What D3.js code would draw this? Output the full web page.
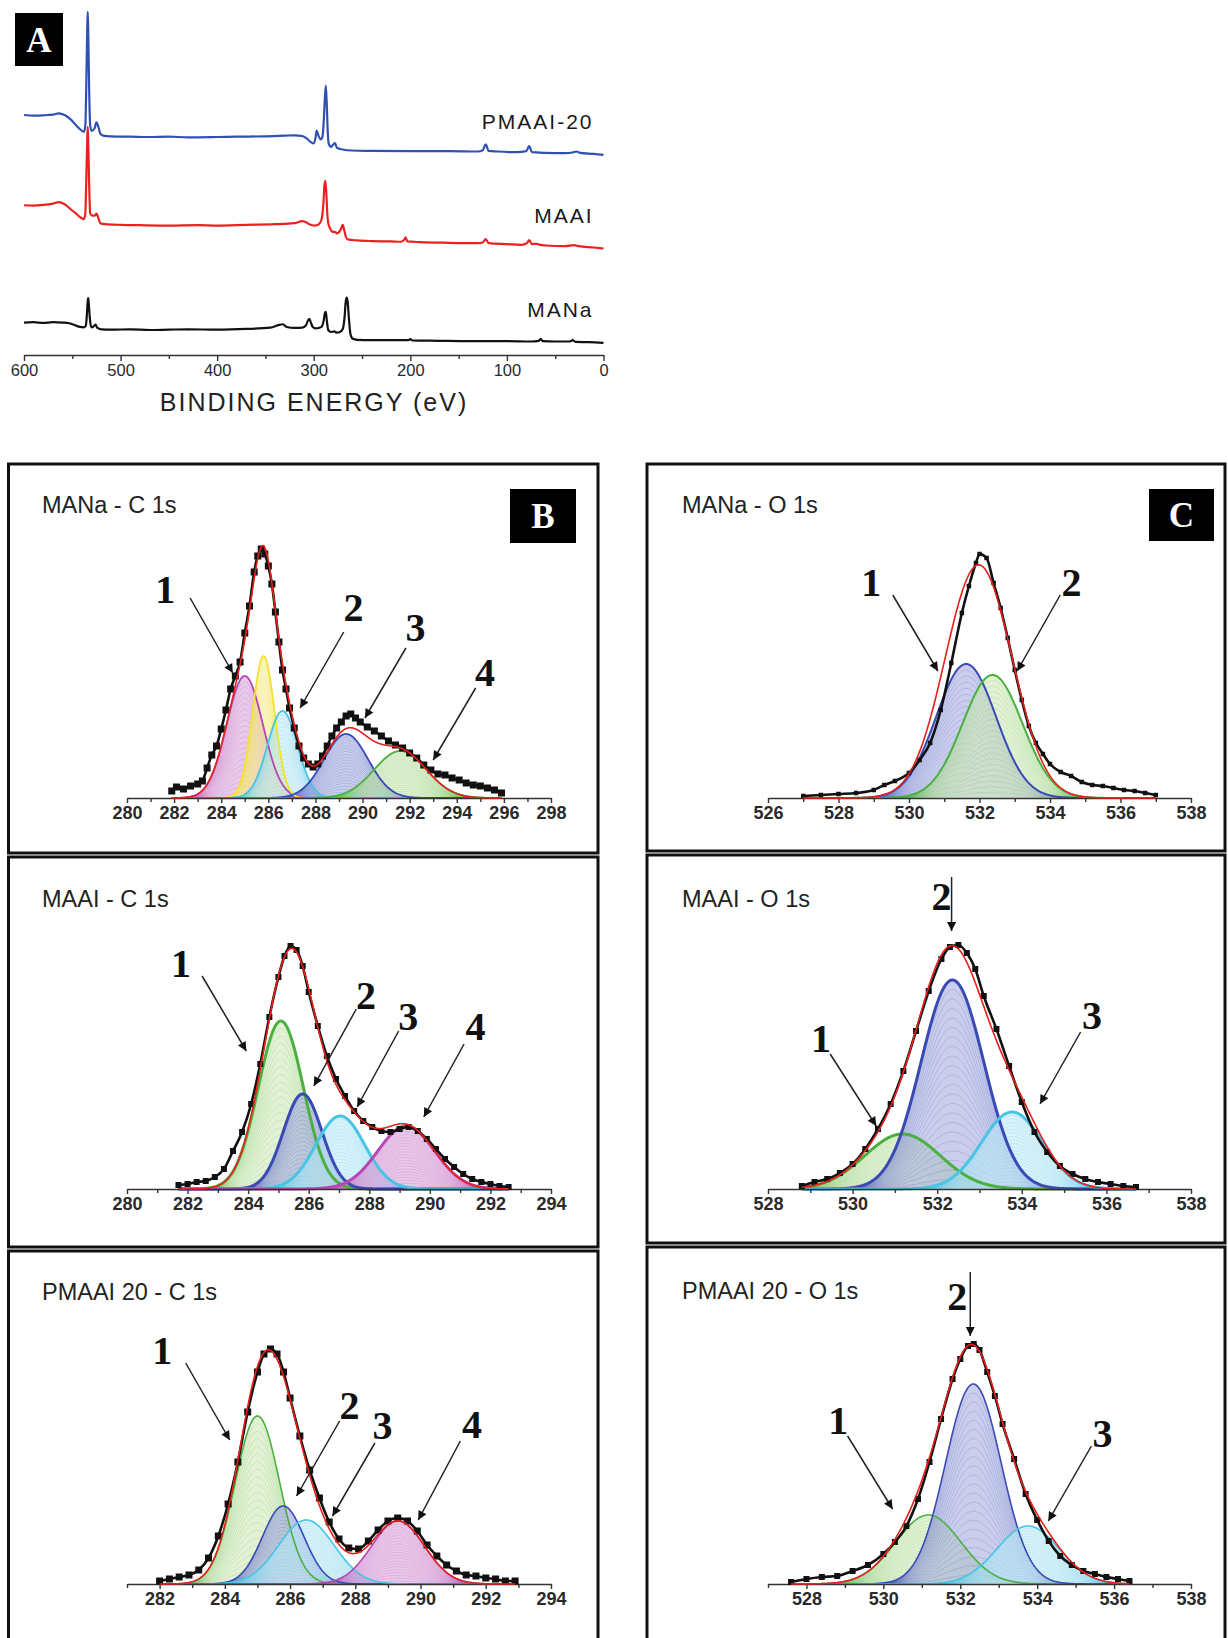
<!DOCTYPE html>
<html>
<head>
<meta charset="utf-8">
<script src="https://cdn.jsdelivr.net/npm/d3@7"></script>
<style>
  body { margin: 0; background: #fff; }
  svg { display: block; font-family: "Liberation Sans", Arial, sans-serif; }
</style>
</head>
<body>
<svg id="fig" width="1228" height="1638"></svg>
<script>
// ---------- Panel A: survey spectra, [binding energy (eV), intensity (a.u.)]
const surveyPMAAI20 = [[600,71.0],[590,70.8],[580,70.9],[570,71.1],[564,71.5],[558,71.0],[552,69.8],[547,68.3],[542,66.8],[538,66.0],
  [536.5,68],[535.5,80],[534.5,97],[534,101.5],[533.5,96],[532.5,78],[531.5,68],[530,66.3],[527,67.0],[525,68.8],[523,67.5],[521,65.5],
  [518,64.9],[510,64.7],[490,64.6],[470,64.5],[450,64.6],[430,64.4],[400,64.5],[380,64.6],[350,64.7],[330,64.9],[320,65.0],[312,64.8],
  [307,64.0],[303,63.0],[300,62.6],[298,64.5],[297,66.4],[295.5,65.2],[293,63.8],[291,64.5],[289.5,70],[288.5,76],[287.5,79.7],
  [286.5,74],[285.5,66],[284.5,62.5],[282,61.6],[280,62.2],[278,62.7],[276,61.3],[270,60.8],[260,60.5],[240,60.4],[200,60.3],
  [160,60.3],[130,60.2],[125,60.6],[122,62.3],[119,60.4],[110,60.2],[90,60.0],[80,60.3],[77,61.8],[74,60.0],[60,59.8],[40,59.7],
  [32,59.9],[28,60.2],[24,59.8],[10,59.5],[0,59.2]];
const surveyMAAI = [[600,44.3],[590,44.2],[580,44.4],[570,44.8],[564,45.2],[558,44.6],[552,43.2],[546,41.8],[541,40.6],[538,40.2],
  [536.5,42],[535.5,52],[534.5,64],[534,67.5],[533.5,63],[532.5,50],[531.5,42],[530,41.3],[527,41.2],[525,41.8],[523,40.5],[521,39.0],
  [516,38.7],[500,38.5],[480,38.4],[450,38.3],[420,38.4],[400,38.3],[370,38.5],[340,38.7],[320,39.0],[312,39.6],[308,39.3],[304,38.6],
  [299,38.3],[295,38.6],[292,40.0],[290,45],[289,50],[288,51.5],[287,48],[286,42],[285,39.0],[283,37.4],[281,36.5],[278,36.4],
  [276,36.0],[274,36.3],[272,37.2],[270,38.5],[268.5,37.0],[267,35.2],[265,34.2],[255,33.9],[240,33.7],[220,33.6],[210,33.5],
  [206,34.2],[205,34.8],[203,33.6],[190,33.4],[160,33.2],[130,33.1],[125,33.3],[122,34.3],[119,33.1],[100,32.8],[85,32.6],[79,33.2],
  [77,34.0],[74,32.8],[69,32.9],[66,32.6],[60,32.4],[40,32.2],[30,32.5],[26,32.2],[10,31.8],[0,31.5]];
const surveyMANa = [[600,9.6],[590,9.7],[580,9.5],[570,9.7],[560,9.6],[553,9.4],[547,8.8],[542,8.3],[538,8.2],[536,8.6],[535,11.5],
  [534,16],[533.5,16.8],[533,15.5],[532,11.5],[530.5,8.4],[529,8.2],[526,9.0],[524,8.0],[520,7.6],[510,7.5],[490,7.6],[470,7.4],
  [450,7.5],[430,7.6],[400,7.5],[370,7.7],[345,8.1],[336,8.9],[332,9.1],[328,8.3],[320,8.0],[312,8.1],[308,8.8],[306,10.2],
  [304.5,10.7],[303,9.6],[301,8.3],[298,7.9],[295,8.0],[292,8.3],[290,9.8],[288.5,12.3],[287.5,12.8],[286.5,10.3],[285,7.4],
  [282,6.8],[279,7.0],[276,6.6],[273,6.8],[270,7.7],[268,11.5],[267,15.5],[266,17.0],[265,16.0],[263.5,10.5],[262,6.2],[260,4.9],
  [255,4.5],[240,4.4],[220,4.4],[202,4.4],[200,4.7],[198,4.3],[170,4.2],[140,4.1],[100,4.1],[75,4.0],[67,4.2],[65,4.8],[63,4.1],
  [50,4.0],[35,4.0],[32,4.4],[29,3.9],[15,3.8],[0,3.6]];
const surveyNames = ["PMAAI-20", "MAAI", "MANa"];
const surveyTicks = [600, 500, 400, 300, 200, 100, 0];

// ---------- C 1s / O 1s fits
// peaks: [centre eV, height, FWHM eV]; points: measured [eV, counts];
// arrows: [label, labelE, labelI, tailE, tailI, tipE, tipI]
const c1sMANaPeaks = [[285.0,122,1.8],[285.8,142,1.1],[286.6,87,1.5],[289.3,64,2.2],[291.6,47,2.6]];
const c1sMANaPoints = [[281.9,7],[282.1,11],[282.4,9],[282.7,12],[283.0,14],[283.2,17],[283.4,30],[283.6,43],[283.8,52],[284.0,69],
  [284.2,88],[284.4,109],[284.6,122],[284.8,136],[285.0,165],[285.2,192],[285.4,226],[285.55,242],[285.7,249],[285.85,244],[286.0,232],
  [286.15,214],[286.3,186],[286.45,156],[286.6,128],[286.75,109],[286.9,90],[287.1,70],[287.3,52],[287.5,40],[287.7,34],[287.9,31],
  [288.1,34],[288.3,42],[288.5,52],[288.7,62],[288.9,70],[289.1,76],[289.3,82],[289.5,84],[289.7,80],[289.9,76],[290.2,71],[290.5,67],
  [290.8,62],[291.1,57],[291.4,53],[291.7,50],[292.0,45],[292.3,40],[292.6,33],[292.9,28],[293.2,24],[293.5,23],[293.8,20],[294.1,18],
  [294.4,15],[294.7,13],[295.0,12],[295.3,10],[295.6,8],[295.9,5]];
const c1sMANaArrows = [["1",281.62,208,282.68,200,284.49,125],["2",289.62,190,289.2,166,287.35,90],
  ["3",292.25,170,291.84,150,290.1,80],["4",295.2,125,294.8,110,293.0,38]];

const c1sMAAIPeaks = [[285.08,168,1.75],[285.8,95,1.5],[287.04,73,1.9],[289.22,63,2.2]];
const c1sMAAIPoints = [[281.7,4],[282.0,5],[282.3,7],[282.6,8],[282.9,12],[283.2,20],[283.5,38],[283.8,57],[284.1,85],[284.4,125],
  [284.7,172],[285.0,212],[285.2,233],[285.4,243],[285.6,239],[285.8,223],[286.0,197],[286.3,163],[286.6,133],[286.9,110],[287.2,93],
  [287.5,78],[287.8,68],[288.1,62],[288.4,58],[288.7,57],[289.0,60],[289.3,62],[289.6,58],[289.9,50],[290.2,40],[290.5,30],[290.8,22],
  [291.1,15],[291.4,10],[291.7,7],[292.0,5],[292.3,3],[292.6,2]];
const c1sMAAIArrows = [["1",281.78,225,282.48,213,283.94,138],["2",287.89,193,287.57,180,286.17,103],
  ["3",289.29,172,288.97,158,287.6,82],["4",291.51,162,291.13,145,289.8,72]];

const c1sPMAAI20Peaks = [[285.0,168,1.6],[285.79,78,1.5],[286.5,64,2.0],[289.31,63,1.9]];
const c1sPMAAI20Points = [[282.0,3],[282.3,5],[282.6,7],[282.9,9],[283.2,14],[283.5,26],[283.8,48],[284.1,80],[284.4,122],[284.7,172],
  [285.0,212],[285.2,230],[285.4,235],[285.6,230],[285.8,212],[286.0,186],[286.3,148],[286.6,114],[286.9,86],[287.2,62],[287.5,45],
  [287.8,36],[288.1,35],[288.4,43],[288.7,54],[289.0,63],[289.3,66],[289.6,63],[289.9,53],[290.2,39],[290.5,28],[290.8,19],[291.1,13],
  [291.4,9],[291.7,8],[292.0,6],[292.3,5],[292.6,3],[292.9,3]];
const c1sPMAAI20Arrows = [["1",282.08,233,282.8,221,284.15,144],["2",287.82,178,287.52,163,286.2,88],
  ["3",288.83,158,288.6,141,287.3,68],["4",291.58,159,291.22,143,289.93,64]];

const o1sMANaPeaks = [[531.62,134,2.0],[532.37,123,2.0]];
const o1sMANaPoints = [[527.0,2],[527.5,3],[528.0,4],[528.5,5],[529.0,8],[529.3,13],[529.6,17],[530.0,25],[530.3,38],[530.6,55],
  [530.9,88],[531.2,135],[531.5,185],[531.7,212],[531.9,235],[532.0,244],[532.2,240],[532.4,215],[532.6,190],[532.8,160],[533.0,128],
  [533.2,98],[533.4,72],[533.6,55],[533.8,44],[534.0,34],[534.3,26],[534.6,22],[534.9,16],[535.2,13],[535.5,12],[535.8,10],[536.1,8],
  [536.4,7],[536.7,5],[537.0,3]];
const o1sMANaArrows = [["1",528.93,215,529.54,203,530.82,127],["2",534.61,215,534.29,203,533.07,127]];

const o1sMAAIPeaks = [[531.18,55,2.1],[532.36,209,1.75],[533.77,77,1.7]];
const o1sMAAIPoints = [[528.8,3],[529.1,7],[529.4,10],[529.7,16],[530.0,25],[530.3,40],[530.6,60],[530.9,85],[531.2,118],[531.5,158],
  [531.8,198],[532.1,230],[532.3,242],[532.5,244],[532.7,236],[532.9,220],[533.1,193],[533.4,160],[533.7,123],[534.0,87],[534.3,57],
  [534.6,37],[534.9,23],[535.2,15],[535.5,10],[535.8,7],[536.1,5],[536.4,3],[536.7,2]];
const o1sMAAIArrows = [["1",529.25,150,529.47,135,530.56,63],["2",532.1,292,532.34,312,532.34,258],
  ["3",535.66,173,535.39,157,534.43,85]];

const o1sPMAAI20Peaks = [[531.17,69,2.0],[532.34,200,1.7],[533.76,58,1.9]];
const o1sPMAAI20Points = [[527.6,2],[528.0,5],[528.4,7],[528.8,8],[529.2,13],[529.6,19],[530.0,30],[530.3,42],[530.6,58],[530.9,85],
  [531.2,122],[531.5,165],[531.8,205],[532.0,225],[532.2,238],[532.35,240],[532.5,234],[532.7,212],[532.9,188],[533.1,160],[533.4,125],
  [533.7,90],[534.0,64],[534.3,43],[534.6,28],[534.9,19],[535.2,13],[535.5,10],[535.8,7],[536.1,5],[536.4,3]];
const o1sPMAAI20Arrows = [["1",528.83,163,529.07,148,530.24,75],["2",531.92,287,532.26,312,532.26,248],
  ["3",535.7,150,535.41,138,534.29,63]];

// ---------- styling
const fitColors = {
  magenta: { line: "#b448b4", fill: "#dca8dc" },
  yellow:  { line: "#f2e232", fill: "#f6eb98" },
  cyan:    { line: "#48c4e4", fill: "#c4eaf6" },
  blue:    { line: "#3a4ab4", fill: "#aab0e0" },
  green:   { line: "#4cb040", fill: "#d2eabc" }
};

const svg = d3.select("#fig");
svg.append("rect").attr("width", 1228).attr("height", 1638).attr("fill", "#fff");

const defs = svg.append("defs");
defs.append("marker")
  .attr("id", "arrowhead")
  .attr("viewBox", "0 0 10 10")
  .attr("refX", 10).attr("refY", 5)
  .attr("markerWidth", 11).attr("markerHeight", 9)
  .attr("markerUnits", "userSpaceOnUse")
  .attr("orient", "auto")
  .append("path").attr("d", "M0,0 L10,5 L0,10 z").attr("fill", "#111");

function letterBox(x0, y0, x1, y1, letter) {
  svg.append("rect").attr("x", x0).attr("y", y0).attr("width", x1 - x0).attr("height", y1 - y0).attr("fill", "#000");
  svg.append("text")
    .attr("x", (x0 + x1) / 2).attr("y", (y0 + y1) / 2 + 12)
    .attr("text-anchor", "middle")
    .style("font-family", "'Liberation Serif', 'Times New Roman', serif")
    .style("font-weight", "bold").style("font-size", "35px")
    .attr("fill", "#fff")
    .text(letter);
}

function styleAxis(g, size, weight) {
  g.select(".domain").attr("stroke", "#333").attr("stroke-width", 1.6);
  g.selectAll(".tick line").attr("stroke", "#333").attr("stroke-width", 1.4);
  g.selectAll(".tick text")
    .style("font-family", "'Liberation Sans', Arial, sans-serif")
    .style("font-size", size + "px").style("font-weight", weight)
    .attr("fill", "#2a2a2a");
}

// ---------- Panel A
(function drawSurvey() {
  const x = d3.scaleLinear().domain([600, 0]).range([24, 603.5]);
  const y = d3.scaleLinear().domain([0, 100]).range([355, 17]);
  const line = d3.line().x(d => x(d[0])).y(d => y(d[1])).curve(d3.curveMonotoneX);

  const series = [surveyPMAAI20, surveyMAAI, surveyMANa];
  const colors = ["#3050b4", "#ec2020", "#111"];

  const gAxis = svg.append("g").attr("transform", "translate(0,355)")
    .call(d3.axisBottom(x).tickValues(surveyTicks).tickSize(6).tickSizeOuter(0).tickFormat(d3.format("d")));
  styleAxis(gAxis, 16.5, "normal");
  const gMinor = svg.append("g").attr("transform", "translate(0,355)")
    .call(d3.axisBottom(x).tickValues(d3.range(550, 0, -100)).tickSize(4).tickFormat(""));
  gMinor.select(".domain").remove();
  gMinor.selectAll(".tick line").attr("stroke", "#333").attr("stroke-width", 1.4);

  series.forEach((s, i) => {
    svg.append("path").datum(s)
      .attr("d", line)
      .attr("fill", "none")
      .attr("stroke", colors[i])
      .attr("stroke-width", 2.2)
      .attr("stroke-linejoin", "round");
    const last = s[s.length - 1];
    svg.append("text")
      .attr("x", x(last[0]) - 10).attr("y", y(last[1]) - 26)
      .attr("text-anchor", "end")
      .style("font-size", "21px").style("letter-spacing", "2px")
      .attr("fill", "#1a1a1a")
      .text(surveyNames[i]);
  });

  svg.append("text")
    .attr("x", 314).attr("y", 411)
    .attr("text-anchor", "middle")
    .style("font-size", "25px").style("letter-spacing", "2px")
    .attr("fill", "#222")
    .text("BINDING ENERGY (eV)");

  letterBox(15, 13, 63, 66, "A");
})();

// ---------- Panels B and C
const frameW = 3;
function frame(x0, y0, x1, y1) {
  svg.append("rect")
    .attr("x", x0).attr("y", y0).attr("width", x1 - x0).attr("height", y1 - y0)
    .attr("fill", "none").attr("stroke", "#111").attr("stroke-width", frameW);
}

const fitPanels = [
  { title: "MANa - C 1s", box: [8.5, 464, 598, 853], tx: 42, ty: 513, axisY: 798, xr: [127, 551], domain: [280, 298],
    peaks: c1sMANaPeaks, points: c1sMANaPoints, arrows: c1sMANaArrows,
    colors: ["magenta", "yellow", "cyan", "blue", "green"], lw: 1.8, dot: 7 },
  { title: "MAAI - C 1s", box: [8.5, 857, 598, 1247], tx: 42, ty: 907, axisY: 1189, xr: [127, 551], domain: [280, 294],
    peaks: c1sMAAIPeaks, points: c1sMAAIPoints, arrows: c1sMAAIArrows,
    colors: ["green", "blue", "cyan", "magenta"], lw: 3, dot: 6 },
  { title: "PMAAI 20 - C 1s", box: [8.5, 1251, 598, 1645], tx: 42, ty: 1300, axisY: 1584, xr: [127, 551], domain: [281, 294],
    peaks: c1sPMAAI20Peaks, points: c1sPMAAI20Points, arrows: c1sPMAAI20Arrows,
    colors: ["green", "blue", "cyan", "magenta"], lw: 1.6, dot: 7 },
  { title: "MANa - O 1s", box: [647, 464, 1225, 851], tx: 682, ty: 513, axisY: 798, xr: [768, 1191], domain: [526, 538],
    peaks: o1sMANaPeaks, points: o1sMANaPoints, arrows: o1sMANaArrows,
    colors: ["blue", "green"], lw: 2, dot: 4.5 },
  { title: "MAAI - O 1s", box: [647, 855, 1225, 1243], tx: 682, ty: 907, axisY: 1189, xr: [768, 1191], domain: [528, 538],
    peaks: o1sMAAIPeaks, points: o1sMAAIPoints, arrows: o1sMAAIArrows,
    colors: ["green", "blue", "cyan"], lw: 3, dot: 6 },
  { title: "PMAAI 20 - O 1s", box: [647, 1247, 1225, 1645], tx: 682, ty: 1299, axisY: 1584, xr: [768, 1191], domain: [527, 538],
    peaks: o1sPMAAI20Peaks, points: o1sPMAAI20Points, arrows: o1sPMAAI20Arrows,
    colors: ["green", "blue", "cyan"], lw: 1.6, dot: 6 }
];

const gauss = (pk, e) => pk[1] * Math.exp(-4 * Math.LN2 * (e - pk[0]) ** 2 / (pk[2] * pk[2]));

function drawFit(p) {
  frame(...p.box);
  const g = svg.append("g");
  const x = d3.scaleLinear().domain(p.domain).range(p.xr);
  const y = d3.scaleLinear().domain([0, 100]).range([p.axisY, p.axisY - 100]);
  const [lo, hi] = d3.extent(p.points, d => d[0]);
  const grid = d3.range(lo, hi + 0.001, 0.025);
  const area = d3.area().x(d => x(d[0])).y0(y(0)).y1(d => y(d[1]));
  const line = d3.line().x(d => x(d[0])).y(d => y(d[1]));

  // component fills with nested contour hatching
  p.peaks.forEach((pk, i) => {
    const c = fitColors[p.colors[i]];
    g.append("path").datum(grid.map(e => [e, gauss(pk, e)]))
      .attr("d", area).attr("fill", c.fill).attr("fill-opacity", 0.62);
    const n = 22;
    for (let k = 1; k < n; k++) {
      g.append("path").datum(grid.map(e => [e, gauss(pk, e) * k / n]))
        .attr("d", line).attr("fill", "none")
        .attr("stroke", c.line).attr("stroke-opacity", 0.3).attr("stroke-width", 0.6);
    }
  });
  p.peaks.forEach((pk, i) => {
    const c = fitColors[p.colors[i]];
    g.append("path").datum(grid.map(e => [e, gauss(pk, e)]))
      .attr("d", line).attr("fill", "none")
      .attr("stroke", c.line).attr("stroke-width", p.lw);
  });

  // axis
  const lo2 = Math.ceil(p.domain[0] / 2) * 2;
  const major = d3.range(lo2, p.domain[1] + 0.1, 2);
  const minor = d3.range(p.domain[0], p.domain[1] + 0.1, 1).filter(v => v % 2 !== 0);
  const gAxis = g.append("g").attr("transform", `translate(0,${p.axisY})`)
    .call(d3.axisBottom(x).tickValues(major).tickSize(5).tickSizeOuter(0).tickFormat(d3.format("d")));
  styleAxis(gAxis, 18, "bold");
  const gMinor = g.append("g").attr("transform", `translate(0,${p.axisY})`)
    .call(d3.axisBottom(x).tickValues(minor).tickSize(4).tickFormat(""));
  gMinor.select(".domain").remove();
  gMinor.selectAll(".tick line").attr("stroke", "#333").attr("stroke-width", 1.4);

  // measured points
  g.append("path").datum(p.points)
    .attr("d", line.curve(d3.curveMonotoneX))
    .attr("fill", "none").attr("stroke", "#111").attr("stroke-width", 2.6);
  g.selectAll("rect.pt").data(p.points).join("rect")
    .attr("class", "pt")
    .attr("x", d => x(d[0]) - p.dot / 2).attr("y", d => y(d[1]) - p.dot / 2)
    .attr("width", p.dot).attr("height", p.dot)
    .attr("fill", "#111");

  // fit envelope
  g.append("path").datum(grid.map(e => [e, d3.sum(p.peaks, pk => gauss(pk, e))]))
    .attr("d", d3.line().x(d => x(d[0])).y(d => y(d[1])))
    .attr("fill", "none").attr("stroke", "#e8201c").attr("stroke-width", 1.6);

  // title
  g.append("text").attr("x", p.tx).attr("y", p.ty)
    .style("font-size", "23.5px").attr("fill", "#222")
    .text(p.title);

  // peak labels and arrows
  p.arrows.forEach(a => {
    g.append("line")
      .attr("x1", x(a[3])).attr("y1", y(a[4]))
      .attr("x2", x(a[5])).attr("y2", y(a[6]))
      .attr("stroke", "#222").attr("stroke-width", 1.5)
      .attr("marker-end", "url(#arrowhead)");
    g.append("text")
      .attr("x", x(a[1])).attr("y", y(a[2]) + 13)
      .attr("text-anchor", "middle")
      .style("font-family", "'Liberation Serif', 'Times New Roman', serif")
      .style("font-weight", "bold").style("font-size", "40px")
      .attr("fill", "#111")
      .text(a[0]);
  });
}

fitPanels.forEach(drawFit);
letterBox(510, 489, 576, 543, "B");
letterBox(1149, 489, 1214, 541, "C");
</script>
</body>
</html>
